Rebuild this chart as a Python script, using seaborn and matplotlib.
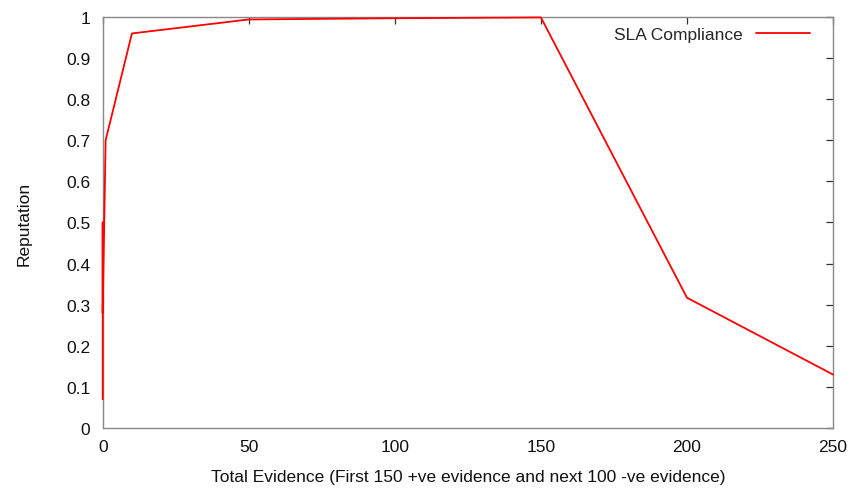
import matplotlib
matplotlib.use("Agg")
import matplotlib.pyplot as plt
import seaborn as sns
import pandas as pd

# Reputation trajectory: 150 positive pieces of evidence, then 100 negative
evidence = [0, 0, 0, 1, 10, 50, 100, 150, 200, 250]
reputation = [0.07, 0.5, 0.28, 0.7, 0.96, 0.994, 0.997, 0.999, 0.317, 0.13]
series_name = "SLA Compliance"

x_ticks = [0, 50, 100, 150, 200, 250]
y_ticks = [0, 0.1, 0.2, 0.3, 0.4, 0.5, 0.6, 0.7, 0.8, 0.9, 1]
y_tick_labels = ["0", "0.1", "0.2", "0.3", "0.4", "0.5", "0.6", "0.7", "0.8", "0.9", "1"]

sns.set_style("white")
plt.rcParams["font.family"] = ["Liberation Sans", "DejaVu Sans"]
fs = 12.5

df = pd.DataFrame({"evidence": evidence, "reputation": reputation,
                   "series": series_name})

fig = plt.figure(figsize=(8.53, 4.89), dpi=100)
ax = fig.add_axes([0.1204, 0.1227, 0.8562, 0.8405])

sns.lineplot(data=df, x="evidence", y="reputation", hue="series",
             palette=["#ff0000"], sort=False, estimator=None,
             linewidth=1.3, ax=ax)
for ln in ax.get_lines():
    ln.set_zorder(3)
    ln.set_clip_on(False)

ax.set_xlim(0, 250)
ax.set_ylim(0, 1)
ax.set_xticks(x_ticks)
ax.set_yticks(y_ticks)
ax.set_yticklabels(y_tick_labels)

frame = "#888888"
for sp in ax.spines.values():
    sp.set_visible(True)
    sp.set_color(frame)
    sp.set_linewidth(1.0)
    sp.set_zorder(2)

ax.tick_params(direction="in", length=5, width=0.9, color="#333333",
               top=True, right=True, labelsize=fs, labelcolor="#111111")
ax.tick_params(axis="x", pad=8)
ax.tick_params(axis="y", pad=9)

ax.set_xlabel("Total Evidence (First 150 +ve evidence and next 100 -ve evidence)",
              fontsize=fs, color="#111111", labelpad=11)
ax.set_ylabel("Reputation", fontsize=fs, color="#111111", labelpad=25)

ax.legend(loc="upper right", frameon=False, fontsize=fs, handlelength=3.1,
          markerfirst=False, borderaxespad=0.0, handletextpad=0.8,
          bbox_to_anchor=(0.978, 0.993))

fig.savefig("out.png", dpi=100)
